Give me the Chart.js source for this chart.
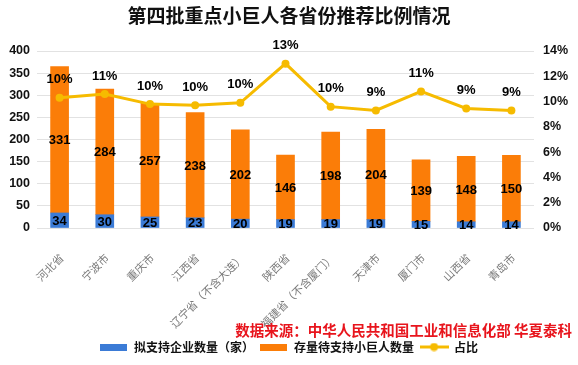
<!DOCTYPE html>
<html>
<head>
<meta charset="utf-8">
<script src="https://cdn.jsdelivr.net/npm/chart.js@4"></script>
<style>
  html, body { margin: 0; padding: 0; background: #fff; }
  #wrap { width: 578px; height: 365px; position: relative; }
</style>
</head>
<body>
<div id="wrap"><canvas id="chart" width="578" height="365"></canvas></div>
<script>
const provinces = ["河北省", "宁波市", "重庆市", "江西省", "辽宁省（不含大连）", "陕西省",
    "福建省（不含厦门）", "天津市", "厦门市", "山西省", "青岛市"];
const supported = [34, 30, 25, 23, 20, 19, 19, 19, 15, 14, 14];
const remaining = [331, 284, 257, 238, 202, 146, 198, 204, 139, 148, 150];
const ratio = [10.3, 10.6, 9.8, 9.7, 9.9, 13.0, 9.6, 9.3, 10.8, 9.45, 9.3];
const leftTicks = [0, 50, 100, 150, 200, 250, 300, 350, 400];
const rightTicks = [0, 2, 4, 6, 8, 10, 12, 14];

const BLUE = "#3b7bd6";
const ORANGE = "#fb7d08";
const YELLOW = "#f6bb00";
const CJK = "'Noto Sans CJK SC', sans-serif";
const NUM = "'Liberation Sans', Arial, sans-serif";

// legend icons
function boxIcon(color) {
    const c = document.createElement("canvas");
    c.width = 27; c.height = 7;
    const g = c.getContext("2d");
    g.fillStyle = color;
    g.fillRect(0, 0, 27, 7);
    return c;
}
function lineIcon(color) {
    const c = document.createElement("canvas");
    c.width = 29; c.height = 9;
    const g = c.getContext("2d");
    g.strokeStyle = color; g.lineWidth = 3;
    g.beginPath(); g.moveTo(0, 4.5); g.lineTo(29, 4.5); g.stroke();
    g.fillStyle = color;
    g.beginPath(); g.arc(14.5, 4.5, 4, 0, Math.PI * 2); g.fill();
    return c;
}

// title, source and value labels
const extras = {
    id: "extras",
    afterDraw(chart) {
        const ctx = chart.ctx;
        ctx.save();
        ctx.fillStyle = "#111";
        ctx.font = "bold 19px " + CJK;
        ctx.textAlign = "center";
        ctx.textBaseline = "middle";
        ctx.fillText("第四批重点小巨人各省份推荐比例情况", 289, 16);

        ctx.fillStyle = "#e8141c";
        ctx.font = "bold 14.5px " + CJK;
        ctx.textAlign = "right";
        ctx.fillText("数据来源：中华人民共和国工业和信息化部 华夏泰科", 572, 330);

        ctx.fillStyle = "#000";
        ctx.font = "bold 13px " + NUM;
        ctx.textAlign = "center";
        [0, 1].forEach(i => {
            const meta = chart.getDatasetMeta(i);
            meta.data.forEach((bar, j) => {
                const v = chart.data.datasets[i].data[j];
                ctx.fillText(v, bar.x, (bar.y + bar.base) / 2 + 1);
            });
        });
        chart.getDatasetMeta(2).data.forEach((pt, j) => {
            ctx.fillText(Math.round(ratio[j]) + "%", pt.x, pt.y - 18);
        });
        ctx.restore();
    }
};

new Chart(document.getElementById("chart"), {
    type: "bar",
    data: {
        labels: provinces,
        datasets: [
            {
                label: "拟支持企业数量（家）",
                data: supported,
                backgroundColor: BLUE,
                stack: "s",
                order: 1,
                barThickness: 18
            },
            {
                label: "存量待支持小巨人数量",
                data: remaining,
                backgroundColor: ORANGE,
                stack: "s",
                order: 1,
                barThickness: 18
            },
            {
                type: "line",
                label: "占比",
                data: ratio,
                yAxisID: "y1",
                borderColor: YELLOW,
                backgroundColor: YELLOW,
                borderWidth: 3,
                pointRadius: 4,
                pointBackgroundColor: YELLOW,
                pointBorderWidth: 0,
                tension: 0,
                order: 0
            }
        ]
    },
    options: {
        responsive: false,
        animation: false,
        layout: { padding: { top: 51, left: 0, right: 0, bottom: 2 } },
        plugins: {
            title: { display: false },
            tooltip: { enabled: false },
            legend: {
                position: "bottom",
                labels: {
                    usePointStyle: true,
                    pointStyleWidth: 28,
                    padding: 6,
                    color: "#111",
                    font: { family: CJK, size: 12, weight: "bold" },
                    generateLabels(chart) {
                        const icons = [boxIcon(BLUE), boxIcon(ORANGE), lineIcon(YELLOW)];
                        return chart.data.datasets.map((ds, i) => ({
                            text: ds.label,
                            pointStyle: icons[i],
                            datasetIndex: i,
                            fontColor: "#111",
                            lineWidth: 0,
                            hidden: false
                        }));
                    }
                }
            }
        },
        scales: {
            x: {
                stacked: true,
                grid: { display: false },
                border: { display: false },
                ticks: {
                    minRotation: 45,
                    maxRotation: 45,
                    padding: 15,
                    labelOffset: 2,
                    color: "#7a7a7a",
                    font: { family: CJK, size: 11 }
                },
                afterFit(scale) { scale.height = 107; }
            },
            y: {
                stacked: true,
                min: 0,
                max: 400,
                afterBuildTicks(scale) { scale.ticks = leftTicks.map(v => ({ value: v })); },
                grid: { color: "#e2e2e2", drawTicks: false },
                border: { display: false },
                ticks: {
                    padding: 7,
                    color: "#111",
                    font: { family: NUM, size: 12.5, weight: "bold" }
                },
                afterFit(scale) { scale.width = 37; }
            },
            y1: {
                position: "right",
                min: 0,
                max: 14,
                afterBuildTicks(scale) { scale.ticks = rightTicks.map(v => ({ value: v })); },
                grid: { display: false, drawTicks: false },
                border: { display: false },
                ticks: {
                    padding: 9,
                    color: "#111",
                    font: { family: NUM, size: 12.5, weight: "bold" },
                    callback: v => v + "%"
                },
                afterFit(scale) { scale.width = 44; }
            }
        }
    },
    plugins: [extras]
});
</script>
</body>
</html>
